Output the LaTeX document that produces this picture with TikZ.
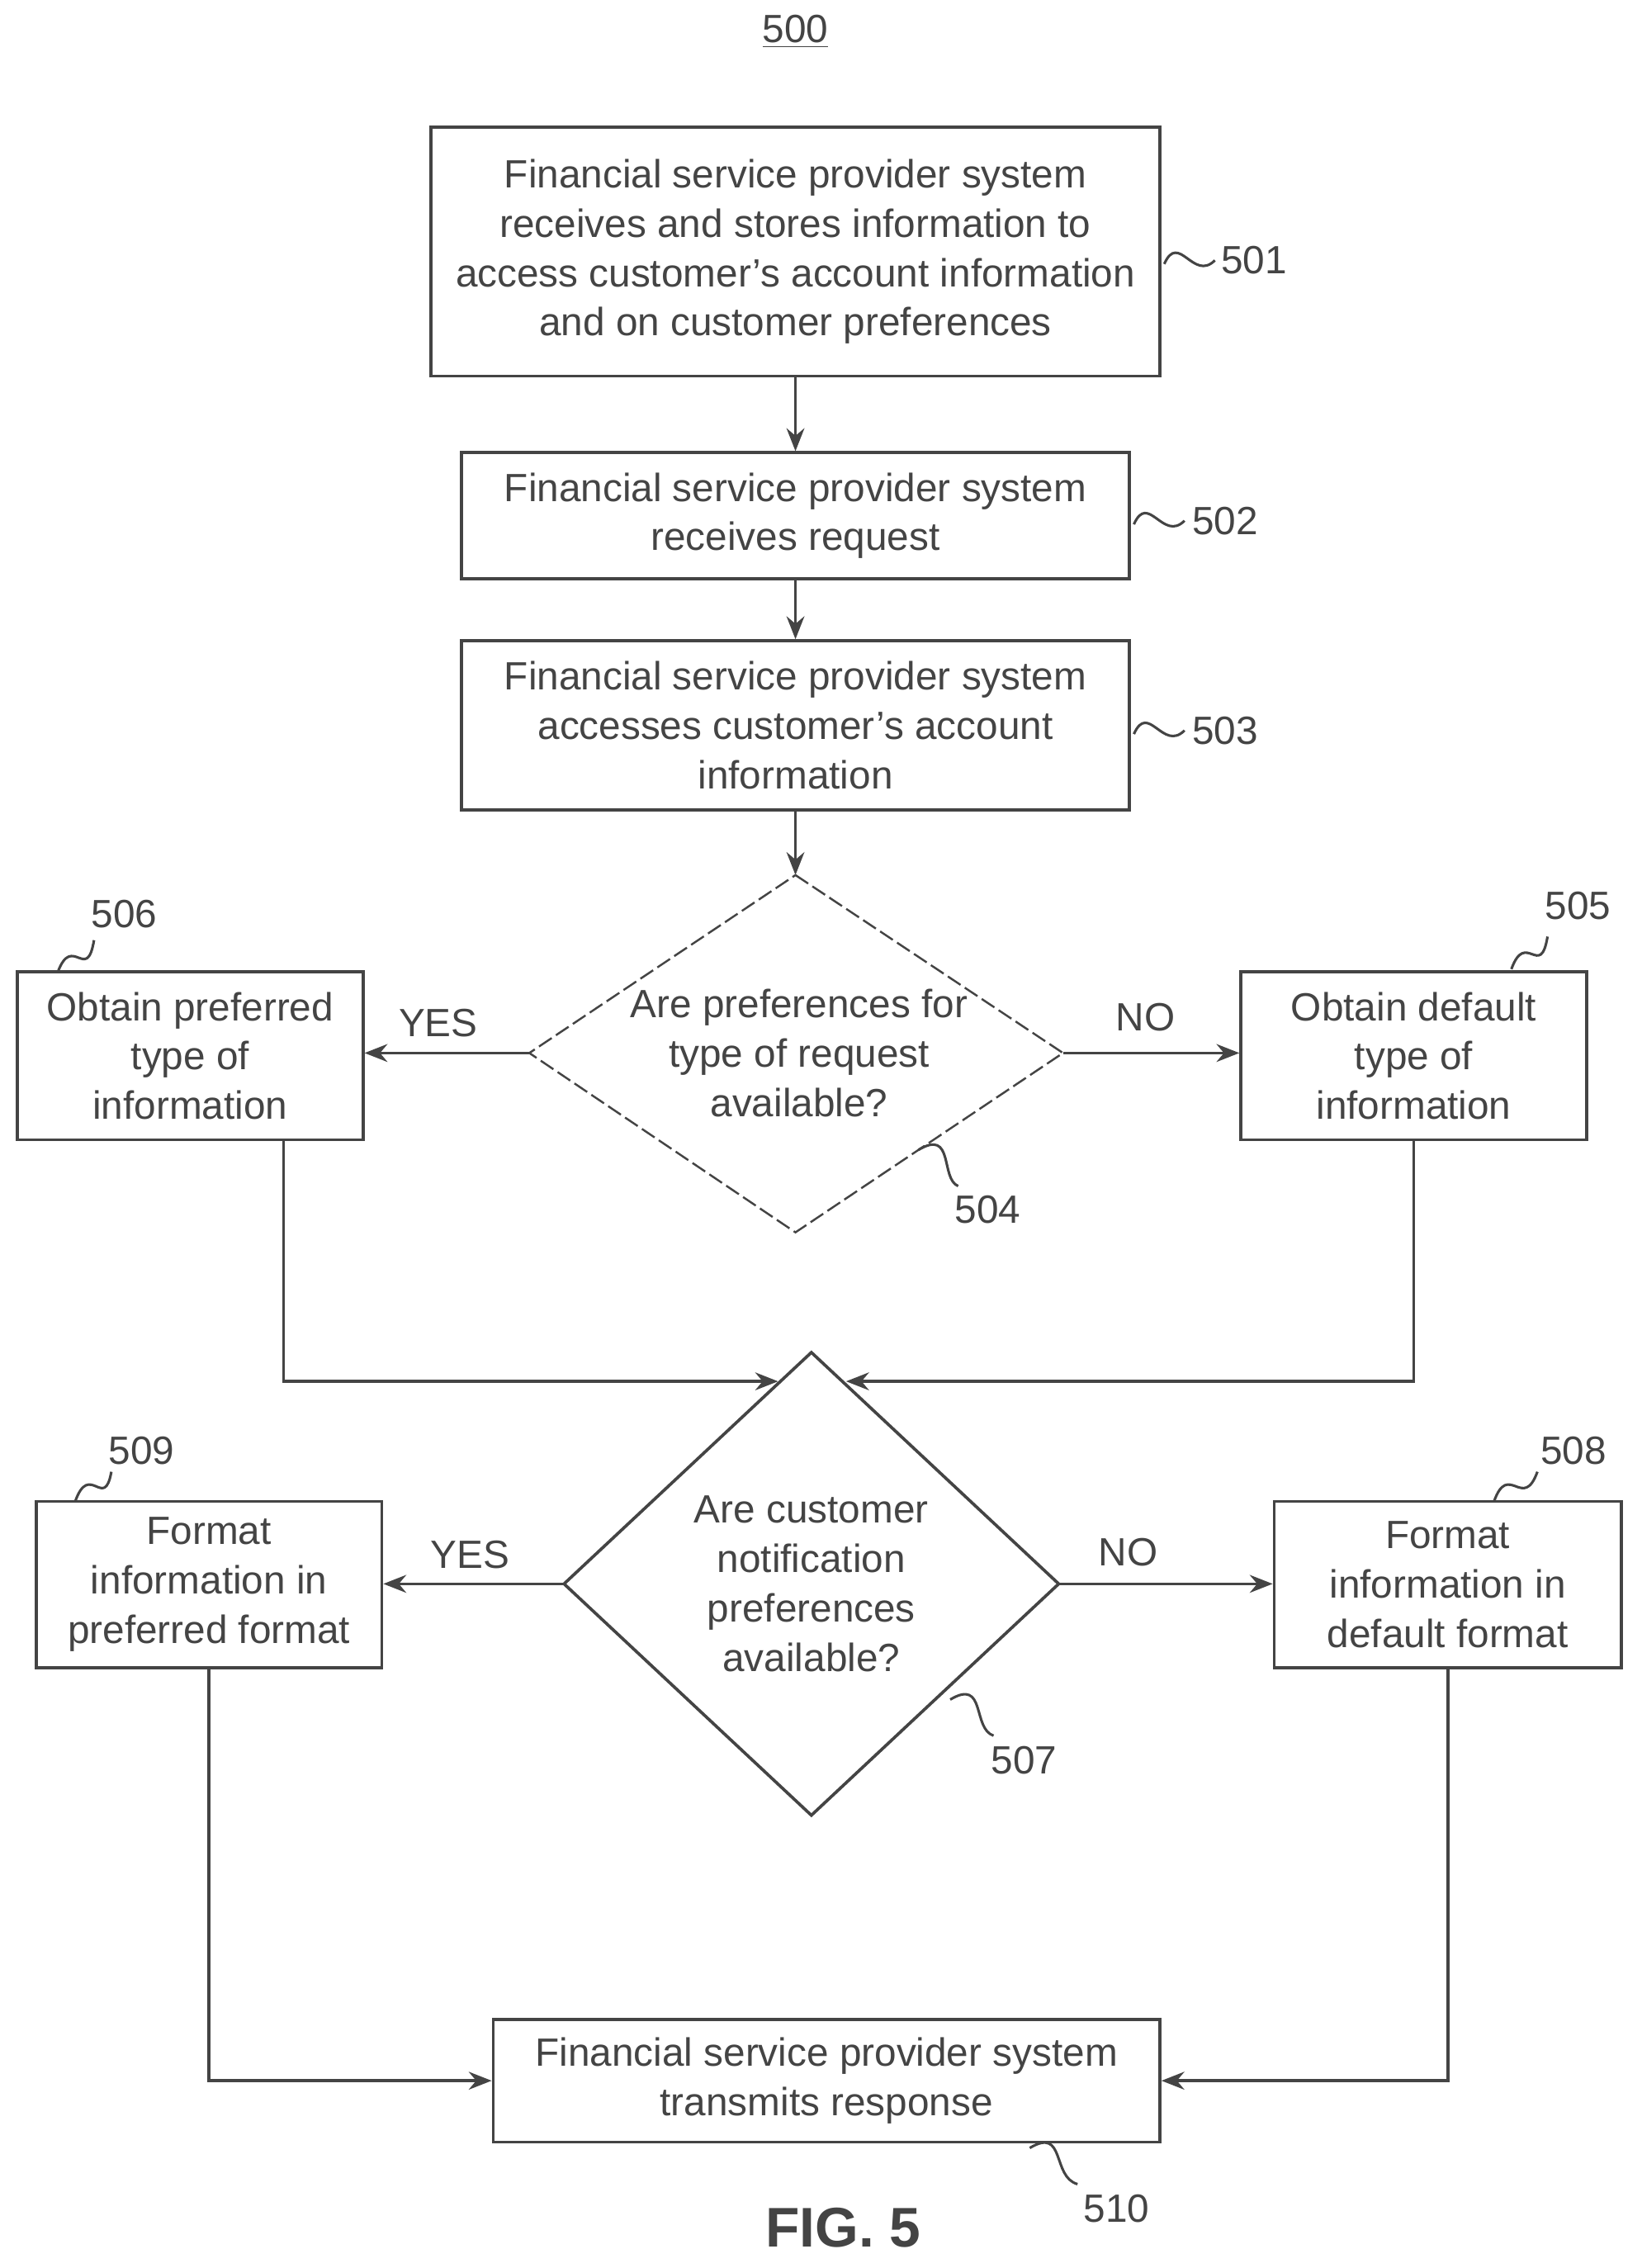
\documentclass[tikz,border=0pt]{standalone}
\usepackage{fontspec}
\setmainfont{Liberation Sans}
\usetikzlibrary{arrows.meta,calc}
\definecolor{ln}{HTML}{444444}
\begin{document}
\begin{tikzpicture}[
  font=\fontsize{15.5pt}{19.4pt}\selectfont,
  box/.style={draw=ln,line width=1.2pt,align=center,inner sep=0pt,text=ln},
  lab/.style={text=ln,inner sep=0pt},
  arr/.style={draw=ln,line width=1.2pt,-{Stealth[length=9pt,width=7pt]}},
  ln/.style={draw=ln,line width=1.2pt},
  sq/.style={draw=ln,line width=1pt}]
\useasboundingbox (0,0) rectangle (22.7,-31.36);
\node[lab] (t500) at (11.0,-0.44) {\underline{500}};
\node[box,minimum width=10.08cm,minimum height=3.44cm] (b501) at (11.0,-3.48) {Financial service provider system\\receives and stores information to\\access customer's account information\\and on customer preferences};
\node[box,minimum width=9.24cm,minimum height=1.74cm] (b502) at (11.0,-7.13) {Financial service provider system\\receives request};
\node[box,minimum width=9.24cm,minimum height=2.34cm] (b503) at (11.0,-10.03) {Financial service provider system\\accesses customer's account\\information};
\coordinate (d1t) at (11,-12.1); \coordinate (d1b) at (11,-17.04);
\coordinate (d1l) at (7.32,-14.56); \coordinate (d1r) at (14.7,-14.56);
\draw[ln,line width=0.8pt,dashed,dash pattern=on 6pt off 2pt] (d1t)--(d1r)--(d1b)--(d1l)--cycle;
\node[lab,align=center] (t504) at (11.05,-14.56) {Are preferences for\\type of request\\available?};
\node[box,minimum width=4.78cm,minimum height=2.32cm] (b506) at (2.63,-14.6) {Obtain preferred\\type of\\information};
\node[box,minimum width=4.78cm,minimum height=2.32cm] (b505) at (19.55,-14.6) {Obtain default\\type of\\information};
\coordinate (d2t) at (11.22,-18.7); \coordinate (d2b) at (11.22,-25.1);
\coordinate (d2l) at (7.8,-21.9); \coordinate (d2r) at (14.64,-21.9);
\draw[ln] (d2t)--(d2r)--(d2b)--(d2l)--cycle;
\node[lab,align=center] (t507) at (11.22,-21.9) {Are customer\\notification\\preferences\\available?};
\node[box,minimum width=4.78cm,minimum height=2.3cm] (b509) at (2.89,-21.91) {Format\\information in\\preferred format};
\node[box,minimum width=4.8cm,minimum height=2.3cm] (b508) at (20.02,-21.91) {Format\\information in\\default format};
\node[box,minimum width=9.22cm,minimum height=1.7cm] (b510) at (11.43,-28.77) {Financial service provider system\\transmits response};
\node[font=\fontsize{22pt}{26pt}\selectfont\bfseries,text=ln] (fig) at (11.66,-30.8) {FIG. 5};
% connectors
\draw[arr] (b501.south) -- (b502.north);
\draw[arr] (b502.south) -- (b503.north);
\draw[arr] (b503.south) -- (d1t);
\draw[arr] (d1l) -- (d1l -| b506.east);
\draw[arr] (d1r) -- (d1r -| b505.west);
\node[lab] (y1) at (6.06,-14.14) {YES};
\node[lab] (n1) at (15.84,-14.06) {NO};
\coordinate (j1) at (3.92,-19.1); \coordinate (e1) at (10.76,-19.1);
\coordinate (e2) at (11.7,-19.1);
\draw[arr] (j1 |- b506.south) -- (j1) -- (e1);
\draw[arr] (b505.south) |- (e2);
\draw[arr] (d2l) -- (d2l -| b509.east);
\draw[arr] (d2r) -- (d2r -| b508.west);
\node[lab] (y2) at (6.5,-21.5) {YES};
\node[lab] (n2) at (15.6,-21.46) {NO};
\draw[arr] (b509.south) |- (b510.west);
\draw[arr] (b508.south) |- (b510.east);
% reference numerals
\node[lab] (r501) at (17.34,-3.6) {501};
\draw[sq] (16.1,-3.65) .. controls (16.3,-3.2) and (16.5,-3.9) .. (16.8,-3.6);
\node[lab] (r502) at (16.94,-7.2) {502};
\draw[sq] (15.68,-7.25) .. controls (15.88,-6.8) and (16.08,-7.5) .. (16.38,-7.2);
\node[lab] (r503) at (16.94,-10.1) {503};
\draw[sq] (15.68,-10.15) .. controls (15.88,-9.7) and (16.08,-10.4) .. (16.38,-10.1);
\node[lab] (r506) at (1.72,-12.64) {506};
\draw[sq] (0.8,-13.44) .. controls (1.0,-12.9) and (1.2,-13.6) .. (1.3,-13.0);
\node[lab] (r505) at (21.82,-12.52) {505};
\draw[sq] (20.9,-13.4) .. controls (21.1,-12.85) and (21.3,-13.55) .. (21.4,-12.95);
\node[lab] (r504) at (13.66,-16.72) {504};
\draw[sq] (12.7,-15.9) .. controls (13.2,-15.6) and (13.0,-16.3) .. (13.25,-16.4);
\node[lab] (r509) at (1.96,-20.06) {509};
\draw[sq] (1.04,-20.76) .. controls (1.24,-20.2) and (1.44,-20.9) .. (1.54,-20.35);
\node[lab] (r508) at (21.76,-20.06) {508};
\draw[sq] (20.66,-20.76) .. controls (20.86,-20.2) and (21.06,-20.9) .. (21.26,-20.35);
\node[lab] (r507) at (14.16,-24.34) {507};
\draw[sq] (13.14,-23.5) .. controls (13.64,-23.2) and (13.44,-23.9) .. (13.74,-24.0);
\node[lab] (r510) at (15.44,-30.54) {510};
\draw[sq] (14.24,-29.7) .. controls (14.74,-29.4) and (14.54,-30.1) .. (14.9,-30.2);
\end{tikzpicture}
\end{document}
